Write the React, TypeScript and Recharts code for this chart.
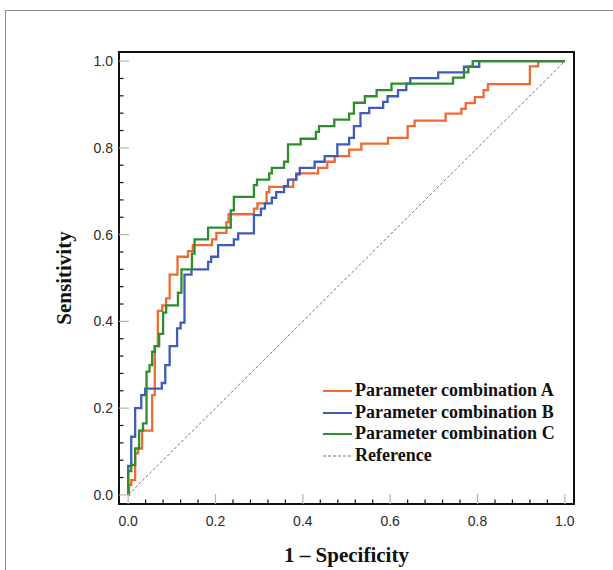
import React from 'react';
import { LineChart, Line, XAxis, YAxis, ReferenceArea } from 'recharts';

// ---------- data ----------
const DOMAIN_MIN = -0.021;
const DOMAIN_MAX = 1.021;

const TICKS = [0, 0.04, 0.08, 0.12, 0.16, 0.2, 0.24, 0.28, 0.32, 0.36, 0.4, 0.44, 0.48, 0.52, 0.56, 0.6, 0.64, 0.68, 0.72, 0.76, 0.8, 0.84, 0.88, 0.92, 0.96, 1.0];
const MAJOR_TICKS = [0, 0.2, 0.4, 0.6, 0.8, 1.0];
const MAJOR_LABELS = ['0.0', '0.2', '0.4', '0.6', '0.8', '1.0'];

const X_TITLE = '1 – Specificity';
const Y_TITLE = 'Sensitivity';

const SERIES_NAMES = ['Parameter combination A', 'Parameter combination B', 'Parameter combination C', 'Reference'];
const SERIES_COLORS = ['#EE6A33', '#3F5CB8', '#2E8E2E', '#777777'];

const curveA = [
  { x: 0, y: 0 }, { x: 0.002, y: 0.023 }, { x: 0.007, y: 0.034 }, { x: 0.016, y: 0.096 },
  { x: 0.023, y: 0.107 }, { x: 0.032, y: 0.148 }, { x: 0.055, y: 0.23 }, { x: 0.061, y: 0.343 },
  { x: 0.068, y: 0.424 }, { x: 0.078, y: 0.437 }, { x: 0.087, y: 0.453 }, { x: 0.095, y: 0.508 },
  { x: 0.113, y: 0.549 }, { x: 0.137, y: 0.562 }, { x: 0.148, y: 0.576 }, { x: 0.192, y: 0.589 },
  { x: 0.202, y: 0.604 }, { x: 0.225, y: 0.629 }, { x: 0.23, y: 0.647 }, { x: 0.288, y: 0.66 },
  { x: 0.296, y: 0.672 }, { x: 0.317, y: 0.698 }, { x: 0.323, y: 0.71 }, { x: 0.378, y: 0.727 },
  { x: 0.385, y: 0.741 }, { x: 0.435, y: 0.754 }, { x: 0.456, y: 0.768 }, { x: 0.473, y: 0.781 },
  { x: 0.506, y: 0.796 }, { x: 0.534, y: 0.81 }, { x: 0.595, y: 0.823 }, { x: 0.64, y: 0.85 },
  { x: 0.656, y: 0.863 }, { x: 0.727, y: 0.879 }, { x: 0.763, y: 0.89 }, { x: 0.773, y: 0.903 },
  { x: 0.794, y: 0.917 }, { x: 0.814, y: 0.933 }, { x: 0.824, y: 0.947 }, { x: 0.92, y: 0.988 },
  { x: 0.939, y: 1.0 }, { x: 1.0, y: 1.0 },
];

const curveB = [
  { x: 0, y: 0 }, { x: 0, y: 0.067 }, { x: 0.007, y: 0.134 }, { x: 0.016, y: 0.2 },
  { x: 0.03, y: 0.23 }, { x: 0.039, y: 0.245 }, { x: 0.077, y: 0.258 }, { x: 0.085, y: 0.299 },
  { x: 0.095, y: 0.343 }, { x: 0.112, y: 0.384 }, { x: 0.12, y: 0.397 }, { x: 0.129, y: 0.508 },
  { x: 0.145, y: 0.52 }, { x: 0.183, y: 0.537 }, { x: 0.19, y: 0.549 }, { x: 0.206, y: 0.576 },
  { x: 0.242, y: 0.589 }, { x: 0.252, y: 0.603 }, { x: 0.288, y: 0.645 }, { x: 0.304, y: 0.66 },
  { x: 0.313, y: 0.672 }, { x: 0.329, y: 0.685 }, { x: 0.339, y: 0.698 }, { x: 0.357, y: 0.712 },
  { x: 0.366, y: 0.727 }, { x: 0.385, y: 0.739 }, { x: 0.393, y: 0.754 }, { x: 0.427, y: 0.768 },
  { x: 0.45, y: 0.781 }, { x: 0.479, y: 0.808 }, { x: 0.506, y: 0.823 }, { x: 0.517, y: 0.85 },
  { x: 0.532, y: 0.88 }, { x: 0.552, y: 0.892 }, { x: 0.584, y: 0.906 }, { x: 0.594, y: 0.919 },
  { x: 0.618, y: 0.933 }, { x: 0.637, y: 0.948 }, { x: 0.646, y: 0.961 }, { x: 0.71, y: 0.974 },
  { x: 0.769, y: 0.987 }, { x: 0.804, y: 1.0 }, { x: 1.0, y: 1.0 },
];

const curveC = [
  { x: 0, y: 0 }, { x: 0, y: 0.055 }, { x: 0.007, y: 0.069 }, { x: 0.016, y: 0.107 },
  { x: 0.025, y: 0.148 }, { x: 0.034, y: 0.165 }, { x: 0.042, y: 0.284 }, { x: 0.049, y: 0.299 },
  { x: 0.055, y: 0.33 }, { x: 0.061, y: 0.343 }, { x: 0.071, y: 0.371 }, { x: 0.08, y: 0.42 },
  { x: 0.087, y: 0.437 }, { x: 0.114, y: 0.466 }, { x: 0.122, y: 0.52 }, { x: 0.146, y: 0.556 },
  { x: 0.152, y: 0.589 }, { x: 0.183, y: 0.616 }, { x: 0.235, y: 0.656 }, { x: 0.242, y: 0.687 },
  { x: 0.288, y: 0.714 }, { x: 0.295, y: 0.727 }, { x: 0.323, y: 0.741 }, { x: 0.329, y: 0.754 },
  { x: 0.357, y: 0.768 }, { x: 0.366, y: 0.808 }, { x: 0.395, y: 0.821 }, { x: 0.43, y: 0.837 },
  { x: 0.437, y: 0.85 }, { x: 0.472, y: 0.865 }, { x: 0.506, y: 0.879 }, { x: 0.517, y: 0.904 },
  { x: 0.542, y: 0.919 }, { x: 0.569, y: 0.933 }, { x: 0.603, y: 0.948 }, { x: 0.744, y: 0.962 },
  { x: 0.769, y: 0.974 }, { x: 0.779, y: 0.987 }, { x: 0.789, y: 1.0 }, { x: 1.0, y: 1.0 },
];

const referenceLine = [{ x: 0, y: 0 }, { x: 1, y: 1 }];

// ---------- layout ----------
const W = 613;
const H = 570;
const MARGIN = { top: 52, right: 39, bottom: 36, left: 59 };
const Y_AXIS_W = 60;
const X_AXIS_H = 30;
const CURVE_W = 2.3;

const TICK_FONT = '"Liberation Sans", Arial, sans-serif';
const TITLE_FONT = '"Liberation Serif", "Times New Roman", serif';

const isMajor = (v: number) => MAJOR_TICKS.some((m) => Math.abs(m - v) < 1e-6);
const majorLabel = (v: number) => {
  const i = MAJOR_TICKS.findIndex((m) => Math.abs(m - v) < 1e-6);
  return i >= 0 ? MAJOR_LABELS[i] : '';
};

const XTick = (props: any) => {
  const { x, y, payload } = props;
  const major = isMajor(payload.value);
  return (
    <g>
      <line x1={x} x2={x} y1={y} y2={y - (major ? 10 : 4.5)} stroke={major ? '#b4b4b4' : '#111'} strokeWidth={1.2} />
      {major && (
        <text x={x} y={y + 22} textAnchor="middle" fontFamily={TICK_FONT} fontSize={14} fill="#2a2a2a">
          {majorLabel(payload.value)}
        </text>
      )}
    </g>
  );
};

const YTick = (props: any) => {
  const { x, y, payload } = props;
  const major = isMajor(payload.value);
  return (
    <g>
      <line x1={x} x2={x + (major ? 10 : 4.5)} y1={y} y2={y} stroke={major ? '#b4b4b4' : '#111'} strokeWidth={1.2} />
      {major && (
        <text x={x - 6} y={y + 5} textAnchor="end" fontFamily={TICK_FONT} fontSize={14} fill="#2a2a2a">
          {majorLabel(payload.value)}
        </text>
      )}
    </g>
  );
};

const XTitle = (props: any) => {
  const vb = props && props.viewBox && props.viewBox.width ? props.viewBox : { x: 119, y: 504, width: 455, height: 30 };
  return (
    <text x={vb.x + vb.width / 2} y={vb.y + 58} textAnchor="middle" fontFamily={TITLE_FONT} fontWeight="bold" fontSize={21} fill="#111">
      {X_TITLE}
    </text>
  );
};

const YTitle = (props: any) => {
  const vb = props && props.viewBox && props.viewBox.height ? props.viewBox : { x: 59, y: 52, width: 60, height: 452 };
  const cx = vb.x + 12;
  const cy = vb.y + vb.height / 2;
  return (
    <text x={cx} y={cy} transform={`rotate(-90 ${cx} ${cy})`} textAnchor="middle" fontFamily={TITLE_FONT} fontWeight="bold" fontSize={21} fill="#111">
      {Y_TITLE}
    </text>
  );
};

const LegendBox = () => (
  <div style={{ position: 'absolute', left: 323, top: 380, fontFamily: TITLE_FONT, fontWeight: 'bold', fontSize: 18, color: '#111' }}>
    {SERIES_NAMES.map((name, i) => (
      <div key={name} style={{ display: 'flex', alignItems: 'center', height: 21.7, lineHeight: '21.7px', whiteSpace: 'nowrap' }}>
        <svg width={29} height={4} style={{ marginRight: 3, display: 'block' }}>
          <line x1={0} x2={29} y1={2} y2={2} stroke={SERIES_COLORS[i]} strokeWidth={i === 3 ? 1.2 : 2} strokeDasharray={i === 3 ? '3 2' : undefined} />
        </svg>
        <span>{name}</span>
      </div>
    ))}
  </div>
);

export default function App() {
  return (
    <div style={{ position: 'fixed', left: 0, top: 0, width: W, height: H, overflow: 'hidden', background: '#fff' }}>
      <div style={{ position: 'absolute', left: 5, top: 10, width: 720, height: 720, border: '1.5px solid #8e8e8e' }} />
      <div style={{ position: 'absolute', left: 0, top: 0 }}>
        <LineChart width={W} height={H} margin={MARGIN}>
          <XAxis
            type="number"
            dataKey="x"
            domain={[DOMAIN_MIN, DOMAIN_MAX]}
            allowDataOverflow
            ticks={TICKS}
            interval={0}
            tickSize={0}
            tickMargin={0}
            axisLine={false}
            tickLine={false}
            tick={XTick}
            height={X_AXIS_H}
            label={XTitle}
          />
          <YAxis
            type="number"
            dataKey="y"
            domain={[DOMAIN_MIN, DOMAIN_MAX]}
            allowDataOverflow
            ticks={TICKS}
            interval={0}
            tickSize={0}
            tickMargin={0}
            axisLine={false}
            tickLine={false}
            tick={YTick}
            width={Y_AXIS_W}
            label={YTitle}
          />
          <Line data={referenceLine} dataKey="y" name={SERIES_NAMES[3]} type="linear" stroke={SERIES_COLORS[3]} strokeWidth={1} strokeDasharray="3 2" dot={false} activeDot={false} isAnimationActive={false} />
          <Line data={curveA} dataKey="y" name={SERIES_NAMES[0]} type="stepAfter" stroke={SERIES_COLORS[0]} strokeWidth={CURVE_W} dot={false} activeDot={false} isAnimationActive={false} />
          <Line data={curveB} dataKey="y" name={SERIES_NAMES[1]} type="stepAfter" stroke={SERIES_COLORS[1]} strokeWidth={CURVE_W} dot={false} activeDot={false} isAnimationActive={false} />
          <Line data={curveC} dataKey="y" name={SERIES_NAMES[2]} type="stepAfter" stroke={SERIES_COLORS[2]} strokeWidth={CURVE_W} dot={false} activeDot={false} isAnimationActive={false} />
          <ReferenceArea x1={DOMAIN_MIN} x2={DOMAIN_MAX} y1={DOMAIN_MIN} y2={DOMAIN_MAX} fill="none" fillOpacity={0} stroke="#111" strokeWidth={2} ifOverflow="visible" />
        </LineChart>
      </div>
      <LegendBox />
    </div>
  );
}
